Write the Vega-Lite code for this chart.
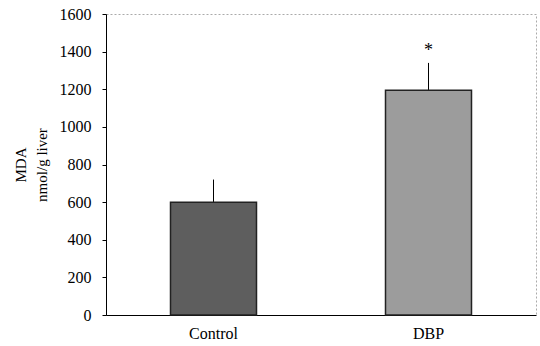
{
  "$schema": "https://vega.github.io/schema/vega-lite/v6.json",
  "width": 430,
  "height": 301,
  "autosize": "none",
  "padding": {"left": 106, "top": 14, "right": 4, "bottom": 31},
  "background": "white",
  "config": {
    "font": "Liberation Serif",
    "view": {"stroke": "#aaaaaa", "strokeDash": [2, 2], "strokeWidth": 1}
  },
  "data": {
    "values": [
      {"group": "Control", "mda": 600, "upper": 720, "mark": ""},
      {"group": "DBP", "mda": 1195, "upper": 1340, "mark": "*"}
    ]
  },
  "encoding": {
    "x": {
      "field": "group", "type": "nominal",
      "scale": {"paddingInner": 0.6, "paddingOuter": 0.3},
      "axis": {"title": null, "labelAngle": 0, "labelFontSize": 16, "labelColor": "black", "labelPadding": 10, "ticks": false, "domainColor": "black", "domainWidth": 1}
    },
    "y": {
      "field": "mda", "type": "quantitative",
      "scale": {"domain": [0, 1600], "nice": false},
      "axis": {
        "title": ["MDA", "nmol/g liver"],
        "titleFontSize": 15, "titleFontWeight": "normal", "titleColor": "black",
        "titlePadding": 10, "titleLineHeight": 21,
        "values": [0, 200, 400, 600, 800, 1000, 1200, 1400, 1600],
        "format": "d", "labelOverlap": false, "labelFlush": false,
        "labelFontSize": 16, "labelColor": "black", "labelPadding": 11,
        "tickSize": 4, "tickColor": "black", "domainColor": "black", "grid": false
      }
    }
  },
  "layer": [
    {
      "mark": {"type": "rule", "color": "black", "strokeWidth": 1},
      "encoding": {
        "y2": {"field": "upper"}
      }
    },
    {
      "mark": {"type": "bar", "stroke": "#222222", "strokeWidth": 1.5},
      "encoding": {
        "color": {
          "field": "group", "type": "nominal", "legend": null,
          "scale": {"domain": ["Control", "DBP"], "range": ["#5e5e5e", "#9c9c9c"]}
        }
      }
    },
    {
      "mark": {"type": "text", "fontSize": 18, "baseline": "middle", "dy": -12, "color": "black"},
      "encoding": {
        "y": {
          "field": "upper", "type": "quantitative",
          "scale": {"domain": [0, 1600], "nice": false},
          "axis": {
            "title": ["MDA", "nmol/g liver"],
            "titleFontSize": 15, "titleFontWeight": "normal", "titleColor": "black",
            "titlePadding": 10, "titleLineHeight": 21,
            "values": [0, 200, 400, 600, 800, 1000, 1200, 1400, 1600],
            "format": "d", "labelOverlap": false, "labelFlush": false,
            "labelFontSize": 16, "labelColor": "black", "labelPadding": 11,
            "tickSize": 4, "tickColor": "black", "domainColor": "black", "grid": false
          }
        },
        "text": {"field": "mark"}
      }
    }
  ]
}
